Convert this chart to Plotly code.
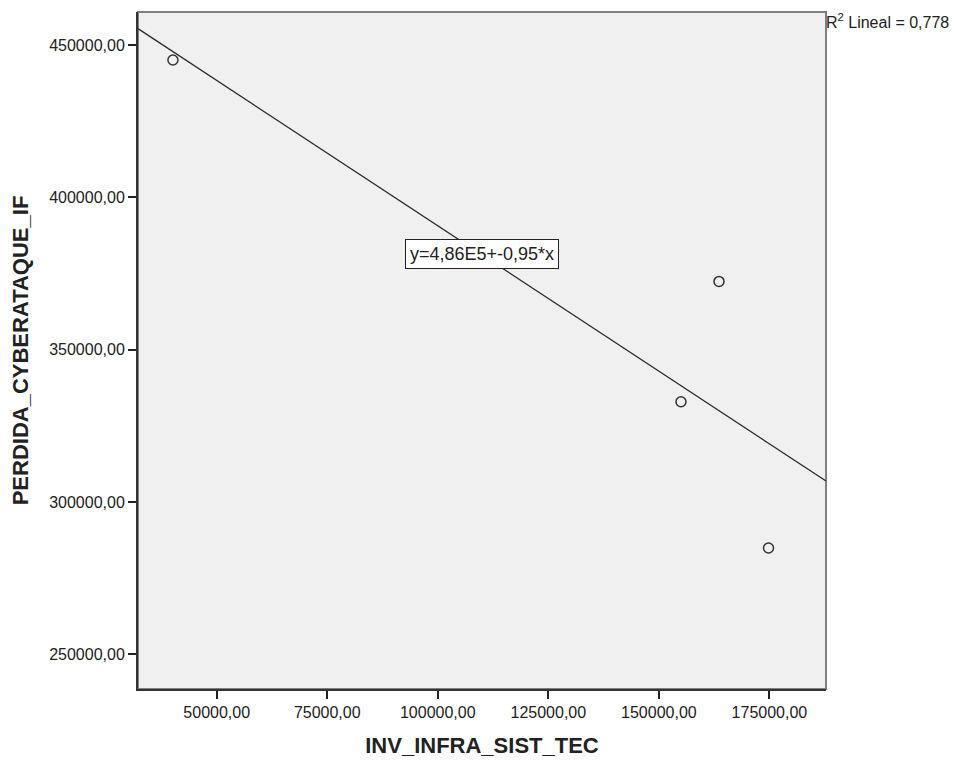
import numpy as np
import plotly.graph_objects as go

# Data
inv_infra = [40100, 163600, 155000, 174800]
perdida = [445100, 372400, 332900, 284900]

x_ticks = [50000, 75000, 100000, 125000, 150000, 175000]
x_ticktext = ["50000,00", "75000,00", "100000,00", "125000,00", "150000,00", "175000,00"]
y_ticks = [250000, 300000, 350000, 400000, 450000]
y_ticktext = ["250000,00", "300000,00", "350000,00", "400000,00", "450000,00"]

x_range = [32200, 187800]
y_range = [238600, 460850]

fit_label = "y=4,86E5+-0,95*x"
r2_label = "R<sup>2</sup> Lineal = 0,778"

slope, intercept = np.polyfit(inv_infra, perdida, 1)
line_x = np.array(x_range)
line_y = intercept + slope * line_x

FONT = "Liberation Sans, Arial, sans-serif"

fig = go.Figure()
fig.add_trace(go.Scatter(x=line_x, y=line_y, mode="lines",
                         line=dict(color="#2b2b2b", width=1.3),
                         hoverinfo="skip", showlegend=False))
fig.add_trace(go.Scatter(x=inv_infra, y=perdida, mode="markers",
                         marker=dict(symbol="circle-open", size=10,
                                     color="#333333", line=dict(width=1.5)),
                         showlegend=False))

# gray frame (top/right)
fig.add_shape(type="rect", xref="paper", yref="paper", x0=0, y0=0, x1=1, y1=1,
              line=dict(color="#808080", width=2), layer="below")

fig.add_annotation(x=110000, y=381300, xref="x", yref="y",
                   text=fit_label, showarrow=False, bgcolor="white",
                   bordercolor="#222222", borderwidth=1, borderpad=4,
                   font=dict(family=FONT, size=18, color="#222222"))
fig.add_annotation(x=1.0, y=1.0, xref="paper", yref="paper", xanchor="left",
                   yanchor="top", text=r2_label, showarrow=False, xshift=-2, yshift=3,
                   font=dict(family=FONT, size=16, color="#222222"))

fig.update_layout(
    width=949, height=753,
    margin=dict(l=130, r=131, t=4, b=72),
    paper_bgcolor="white", plot_bgcolor="#F0F0F0",
    font=dict(family=FONT, size=16, color="#222222"),
    xaxis=dict(range=x_range, tickvals=x_ticks, ticktext=x_ticktext,
               ticks="outside", ticklen=8, tickwidth=2, tickcolor="#222222",
               showgrid=False, zeroline=False,
               showline=True, linecolor="#333333", linewidth=2,
               title=dict(text="<b>INV_INFRA_SIST_TEC</b>", font=dict(size=22), standoff=17)),
    yaxis=dict(range=y_range, tickvals=y_ticks, ticktext=y_ticktext,
               ticks="outside", ticklen=8, tickwidth=2, tickcolor="#222222",
               showgrid=False, zeroline=False,
               showline=True, linecolor="#333333", linewidth=2,
               title=dict(text="<b>PERDIDA_CYBERATAQUE_IF</b>", font=dict(size=22), standoff=19)),
)

fig.write_html("out.html")
